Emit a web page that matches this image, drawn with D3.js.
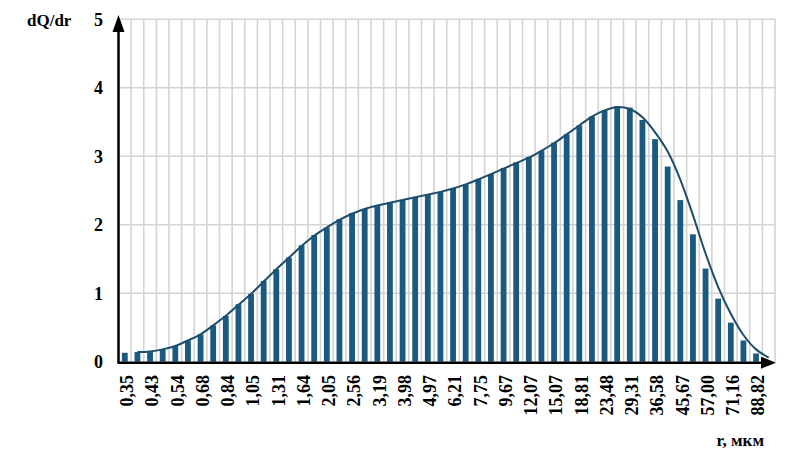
<!DOCTYPE html>
<html>
<head>
<meta charset="utf-8">
<script src="https://cdn.jsdelivr.net/npm/d3@7"></script>
<style>
  html, body { margin: 0; padding: 0; background: #fff; }
  svg { display: block; }
  text { font-family: "Liberation Serif", "Times New Roman", serif; font-weight: bold; fill: #000; }
</style>
</head>
<body>
<svg id="chart" width="794" height="466"></svg>
<script>
// ---- data ----
const tickLabels = ["0,35","0,43","0,54","0,68","0,84","1,05","1,31","1,64","2,05","2,56","3,19","3,98","4,97",
  "6,21","7,75","9,67","12,07","15,07","18,81","23,48","29,31","36,58","45,67","57,00","71,16","88,82"];
const barValues = [0.13,0.14,0.14,0.18,0.23,0.31,0.40,0.53,0.67,0.84,0.99,1.18,1.35,1.52,1.70,1.85,1.96,2.08,2.17,2.23,
  2.28,2.33,2.36,2.40,2.44,2.48,2.53,2.59,2.67,2.74,2.83,2.91,2.99,3.08,3.20,3.32,3.45,3.58,3.67,3.73,
  3.71,3.53,3.25,2.85,2.36,1.86,1.36,0.92,0.57,0.31,0.12];
const fitValues = [null,0.14,0.15,0.18,0.23,0.31,0.40,0.53,0.67,0.83,0.99,1.17,1.35,1.52,1.69,1.84,1.96,2.07,2.16,2.23,
  2.28,2.32,2.36,2.40,2.44,2.48,2.53,2.59,2.66,2.74,2.82,2.90,2.98,3.08,3.19,3.32,3.45,3.58,3.67,3.72,
  3.69,3.57,3.35,3.07,2.66,2.14,1.58,1.09,0.70,0.39,0.18,0.06];
const yTicks = [0,1,2,3,4,5];
const yTitle = "dQ/dr";
const xTitle = "r, мкм";

// ---- layout ----
const pLeft = 118.5, pRight = 775, pTop = 19.3, pBottom = 361.7;
const nBands = fitValues.length; // 52
const svg = d3.select("#chart");

const x = d3.scaleBand().domain(d3.range(nBands)).range([pLeft, pRight]).padding(0);
const y = d3.scaleLinear().domain([0, 5]).range([pBottom, pTop]);
const bw = x.bandwidth();
const gridColor = "#d3d3d3";

// grid: horizontal
svg.append("g").selectAll("line").data(yTicks.filter(d => d > 0)).join("line")
  .attr("x1", pLeft).attr("x2", pRight)
  .attr("y1", d => y(d)).attr("y2", d => y(d))
  .attr("stroke", gridColor).attr("stroke-width", 1.6);
// grid: vertical band boundaries
svg.append("g").selectAll("line").data(d3.range(1, nBands + 1)).join("line")
  .attr("x1", d => x(d - 1) + bw).attr("x2", d => x(d - 1) + bw)
  .attr("y1", pTop).attr("y2", pBottom)
  .attr("stroke", gridColor).attr("stroke-width", 1.6);

// bars
svg.append("g").selectAll("rect").data(barValues).join("rect")
  .attr("x", (d, i) => x(i) + bw * 0.27)
  .attr("width", bw * 0.46)
  .attr("y", d => y(d))
  .attr("height", d => y(0) - y(d))
  .attr("fill", "#1b5a80");

// fitted curve
const line = d3.line()
  .defined(d => d != null)
  .x((d, i) => x(i) + bw / 2)
  .y(d => y(d))
  .curve(d3.curveCatmullRom.alpha(0.5));
svg.append("path").datum(fitValues)
  .attr("d", line)
  .attr("fill", "none")
  .attr("stroke", "#1d4d6c")
  .attr("stroke-width", 2);

// axes
svg.append("line").attr("x1", pLeft).attr("x2", pLeft).attr("y1", pBottom + 1).attr("y2", 30)
  .attr("stroke", "#000").attr("stroke-width", 2.5);
svg.append("path").attr("d", `M${pLeft - 6},${32} L${pLeft},${15} L${pLeft + 6},${32} Z`).attr("fill", "#000");
svg.append("line").attr("x1", pLeft - 1).attr("x2", pRight - 12).attr("y1", pBottom + 1).attr("y2", pBottom + 1)
  .attr("stroke", "#000").attr("stroke-width", 2.5);
svg.append("path").attr("d", `M${pRight - 14},${pBottom + 1 - 6} L${pRight + 1},${pBottom + 1} L${pRight - 14},${pBottom + 1 + 6} Z`).attr("fill", "#000");

// y tick labels
svg.append("g").selectAll("text").data(yTicks).join("text")
  .attr("x", 103).attr("y", d => y(d)).attr("dy", "0.35em")
  .attr("text-anchor", "end").attr("font-size", 18)
  .text(d => d);

// y title
svg.append("text").attr("x", 27).attr("y", 26).attr("font-size", 17).text(yTitle);

// x tick labels (every other band)
svg.append("g").selectAll("text").data(tickLabels).join("text")
  .attr("transform", (d, i) => `translate(${x(i * 2) + bw / 2 + 2},375) rotate(-90)`)
  .attr("dy", "0.35em")
  .attr("text-anchor", "end").attr("font-size", 18)
  .text(d => d);

// x title
svg.append("text").attr("x", 764).attr("y", 446).attr("text-anchor", "end").attr("font-size", 17).text(xTitle);
</script>
</body>
</html>
